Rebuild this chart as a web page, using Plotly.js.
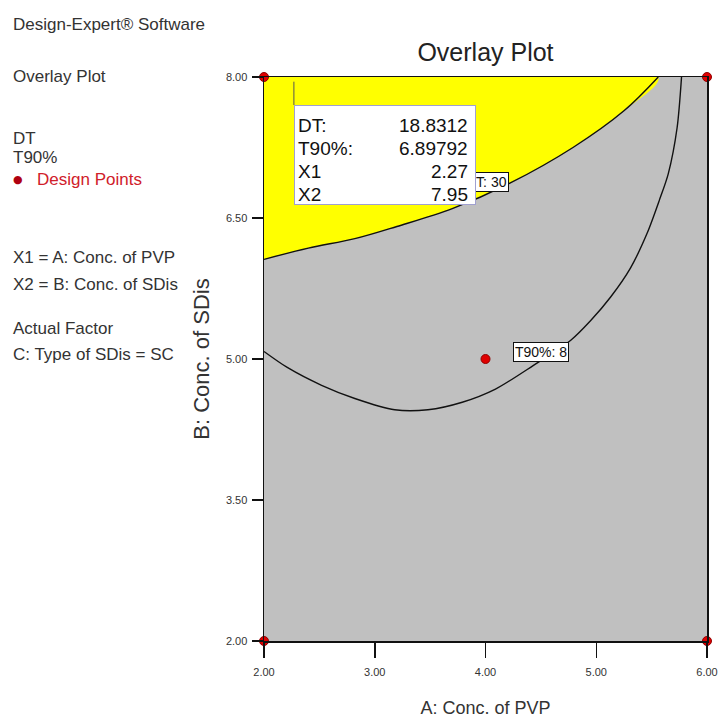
<!DOCTYPE html>
<html>
<head>
<meta charset="utf-8">
<script src="https://cdn.plot.ly/plotly-3.0.1.min.js"></script>
<style>html,body{margin:0;padding:0;background:#fff;}#chart{width:721px;height:718px;}</style>
</head>
<body>
<div id="chart"></div>
<script>
// ---- data ----
const xTickVals = [2, 3, 4, 5, 6];
const xTickText = ["2.00", "3.00", "4.00", "5.00", "6.00"];
const yTickVals = [2, 3.5, 5, 6.5, 8];
const yTickText = ["2.00", "3.50", "5.00", "6.50", "8.00"];

// DT = 30 contour (boundary of the yellow region)
const dtX = [2.00, 2.40, 2.82, 3.20, 3.70, 4.22, 4.79, 5.25, 5.56];
const dtY = [6.06, 6.18, 6.28, 6.41, 6.60, 6.87, 7.25, 7.64, 8.00];

// T90% = 8 contour
const t90X = [2.00, 2.21, 2.52, 2.82, 3.18, 3.48, 3.79, 4.09, 4.43, 4.77, 4.95, 5.13, 5.31, 5.46, 5.57, 5.65, 5.73, 5.77];
const t90Y = [5.08, 4.91, 4.72, 4.58, 4.46, 4.46, 4.54, 4.68, 4.93, 5.20, 5.41, 5.66, 5.97, 6.34, 6.69, 6.97, 7.46, 8.00];

// design points
const dpX = [2, 6, 2, 6, 4];
const dpY = [8, 8, 2, 2, 5];

// flag / tooltip
const flagX = 2.27, flagY = 7.95;
const tipLabels = ["DT:", "T90%:", "X1", "X2"];
const tipValues = ["18.8312", "6.89792", "2.27", "7.95"];

// contour labels
const contourLabels = ["DT: 30", "T90%: 8"];

// side panel text
const sideLines = ["Design-Expert® Software", "Overlay Plot", "DT", "T90%", "Design Points",
                   "X1 = A: Conc. of PVP", "X2 = B: Conc. of SDis", "Actual Factor", "C: Type of SDis = SC"];

// ---- layout helpers (pixel -> paper) ----
const W = 721, H = 718, ML = 264, MR = 14, MT = 77, MB = 77;
const PW = W - ML - MR, PH = H - MT - MB;
const px = p => (p - ML) / PW;
const py = p => (H - MB - p) / PH;
const FONT = "Liberation Sans, Arial, sans-serif";

const traces = [
  { // yellow region
    x: dtX.concat([2]), y: dtY.concat([8]),
    type: "scatter", mode: "lines", fill: "toself", fillcolor: "#ffff00",
    line: { width: 0, color: "#ffff00", shape: "spline" }, hoverinfo: "skip", showlegend: false
  },
  {
    x: dtX, y: dtY, type: "scatter", mode: "lines",
    line: { color: "#111", width: 1.4, shape: "spline" }, showlegend: false
  },
  {
    x: t90X, y: t90Y, type: "scatter", mode: "lines",
    line: { color: "#111", width: 1.4, shape: "spline", smoothing: 0.8 }, showlegend: false
  },
  {
    x: dpX, y: dpY, type: "scatter", mode: "markers", cliponaxis: false,
    marker: { color: "#e00000", size: 9, line: { color: "#900000", width: 1 } }, showlegend: false
  }
];

const annotations = [];
// contour labels
annotations.push({ xref: "x", yref: "y", x: 2 + (509 - ML) / (PW / 4), y: 6.878, xanchor: "right", yanchor: "middle",
  text: contourLabels[0], showarrow: false, font: { family: FONT, size: 14, color: "#111" },
  bgcolor: "#fff", bordercolor: "#111", borderwidth: 1, borderpad: 1 });
annotations.push({ xref: "x", yref: "y", x: 4.50, y: 5.07, xanchor: "center", yanchor: "middle",
  text: contourLabels[1], showarrow: false, font: { family: FONT, size: 14, color: "#111" },
  bgcolor: "#fff", bordercolor: "#111", borderwidth: 1, borderpad: 1 });
// tooltip box
annotations.push({ xref: "paper", yref: "paper", x: px(294), y: py(105), xanchor: "left", yanchor: "top",
  text: " ", showarrow: false, width: 180, height: 98, bgcolor: "#fff",
  bordercolor: "#a0a0d0", borderwidth: 1, borderpad: 0, font: { size: 10 } });
const tipRows = [125, 148, 171, 194];
tipLabels.forEach((t, i) => {
  annotations.push({ xref: "paper", yref: "paper", x: px(296), y: py(tipRows[i]), xanchor: "left", yanchor: "middle",
    text: t, showarrow: false, font: { family: FONT, size: 19, color: "#111" } });
  annotations.push({ xref: "paper", yref: "paper", x: px(470), y: py(tipRows[i]), xanchor: "right", yanchor: "middle",
    text: tipValues[i], showarrow: false, font: { family: FONT, size: 19, color: "#111" } });
});
// side panel
const sideY = [25, 76, 138, 157, 179, 257, 284, 328, 354];
sideLines.forEach((t, i) => {
  const isDP = (i === 4);
  annotations.push({ xref: "paper", yref: "paper", x: px(isDP ? 35 : 11), y: py(sideY[i]),
    xanchor: "left", yanchor: "middle", text: t, showarrow: false,
    font: { family: FONT, size: 17, color: isDP ? "#d0202a" : "#333" } });
});
annotations.push({ xref: "paper", yref: "paper", x: px(18), y: py(179), xanchor: "center", yanchor: "middle",
  text: "●", showarrow: false, font: { family: "DejaVu Sans", size: 11, color: "#b00010" } });

const layout = {
  width: W, height: H,
  margin: { l: ML, r: MR, t: MT, b: MB, pad: 0 },
  paper_bgcolor: "#fff", plot_bgcolor: "#c0c0c0",
  font: { family: FONT, color: "#333" },
  title: { text: "Overlay Plot", font: { family: FONT, size: 25, color: "#222" },
    xref: "paper", x: 0.5, xanchor: "center", yref: "container", y: 1 - 52 / H, yanchor: "middle" },
  xaxis: {
    range: [2, 6], tickvals: xTickVals, ticktext: xTickText,
    ticks: "outside", ticklen: 15, tickwidth: 1.5, tickcolor: "#111",
    showline: true, mirror: true, linecolor: "#111", linewidth: 1.5,
    showgrid: false, zeroline: false, fixedrange: true, ticklabelstandoff: 5,
    tickfont: { family: FONT, size: 11, color: "#333" },
    title: { text: "A: Conc. of PVP", font: { family: FONT, size: 18, color: "#333" }, standoff: 25 }
  },
  yaxis: {
    range: [2, 8], tickvals: yTickVals, ticktext: yTickText,
    ticks: "outside", ticklen: 11, tickwidth: 1.5, tickcolor: "#111",
    showline: true, mirror: true, linecolor: "#111", linewidth: 1.5,
    showgrid: false, zeroline: false, fixedrange: true, ticklabelstandoff: 2,
    tickfont: { family: FONT, size: 11, color: "#333" },
    title: { text: "B: Conc. of SDis", font: { family: FONT, size: 22, color: "#333" }, standoff: 10 }
  },
  shapes: [
    { type: "line", xref: "x", yref: "y", x0: flagX, x1: flagX, y0: flagY, y1: 2 + (H - MB - 105) / (PH / 6),
      line: { color: "#555", width: 1 } }
  ],
  annotations: annotations,
  showlegend: false
};

Plotly.newPlot("chart", traces, layout, { displayModeBar: false, staticPlot: true });
</script>
</body>
</html>
